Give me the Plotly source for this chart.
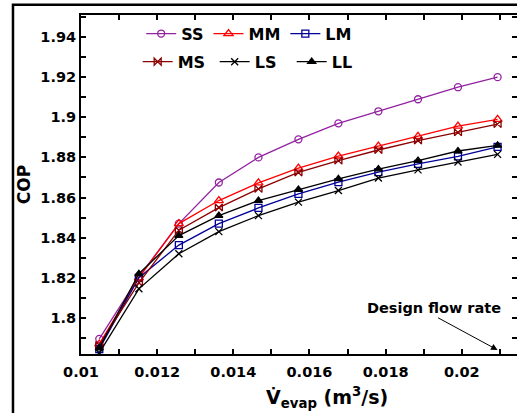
import plotly.graph_objects as go

flow = [0.01048, 0.01152, 0.01257, 0.01362, 0.01466, 0.01571, 0.01676, 0.01781, 0.01885, 0.0199, 0.02094]
SS = [1.7895, 1.8205, 1.847, 1.8675, 1.880, 1.889, 1.897, 1.903, 1.909, 1.915, 1.920]
MM = [1.787, 1.820, 1.847, 1.8585, 1.8673, 1.8747, 1.8807, 1.8856, 1.8905, 1.8956, 1.899]
LM = [1.7845, 1.8200, 1.8363, 1.847, 1.8548, 1.8618, 1.8677, 1.8727, 1.8768, 1.8805, 1.8853]
MS = [1.7865, 1.8175, 1.8437, 1.855, 1.8643, 1.8725, 1.8784, 1.8837, 1.8884, 1.8925, 1.8966]
LS = [1.7826, 1.8145, 1.832, 1.843, 1.851, 1.8577, 1.8635, 1.8697, 1.8738, 1.8777, 1.8815]
LL = [1.785, 1.822, 1.841, 1.851, 1.8585, 1.864, 1.8693, 1.8742, 1.8784, 1.8832, 1.886]

x_ticks = [0.01, 0.012, 0.014, 0.016, 0.018, 0.02]
x_labels = ["0.01", "0.012", "0.014", "0.016", "0.018", "0.02"]
y_ticks = [1.8, 1.82, 1.84, 1.86, 1.88, 1.9, 1.92, 1.94]
y_labels = ["1.8", "1.82", "1.84", "1.86", "1.88", "1.9", "1.92", "1.94"]

series = [
    ("SS", SS, "#9222a0", "circle-open", 7, "legend"),
    ("MM", MM, "#ff0000", "triangle-up-open", 8, "legend"),
    ("LM", LM, "#000099", "square-open", 7, "legend"),
    ("MS", MS, "#8b0000", "bowtie-open", 7, "legend2"),
    ("LS", LS, "#000000", "x-thin-open", 7, "legend2"),
    ("LL", LL, "#000000", "triangle-up", 7, "legend2"),
]

FAM = "DejaVu Sans, Liberation Sans, Arial, sans-serif"
font = dict(family=FAM, color="black")

fig = go.Figure()
for name, ys, col, sym, sz, lg in series:
    fig.add_trace(go.Scatter(
        x=flow, y=ys, name="<b>%s</b>" % name, mode="lines+markers", legend=lg,
        line=dict(color=col, width=1.3),
        marker=dict(symbol=sym, size=sz, color=col, line=dict(color=col, width=1.3)),
    ))
# invisible copy on the right-hand axis so its inside ticks are drawn
fig.add_trace(go.Scatter(x=flow, y=LL, yaxis="y2", mode="lines", line=dict(width=0),
                         opacity=0, showlegend=False, hoverinfo="skip"))

tick_common = dict(ticks="inside", ticklen=5, tickwidth=1.5, tickcolor="black",
                   showgrid=False, zeroline=False)
minor_common = dict(ticks="inside", ticklen=5, tickwidth=1.5, tickcolor="black")

fig.update_layout(
    xaxis=dict(range=[0.01, 0.02145], tickvals=x_ticks,
               ticktext=["<b>%s</b>" % t for t in x_labels],
               minor=dict(dtick=0.001, tick0=0.01, **minor_common),
               showline=True, linecolor="black", linewidth=2, mirror="ticks",
               tickfont=dict(size=14.5, **font), ticklabelstandoff=4,
               **tick_common),
    yaxis=dict(range=[1.782, 1.951], tickvals=y_ticks,
               ticktext=["<b>%s</b>" % t for t in y_labels],
               minor=dict(dtick=0.01, tick0=1.8, **minor_common),
               showline=True, linecolor="black", linewidth=2, mirror=False,
               tickfont=dict(size=14.5, **font),
               title=dict(text="<b>COP</b>", font=dict(size=17, **font), standoff=5),
               **tick_common),
    yaxis2=dict(range=[1.782, 1.951], overlaying="y", side="right", showticklabels=False,
                tickvals=y_ticks, minor=dict(dtick=0.01, tick0=1.8, **minor_common),
                showline=False, **tick_common),
)

leg = dict(orientation="h", bgcolor="rgba(0,0,0,0)", font=dict(size=16, **font),
           xanchor="left", yanchor="middle", itemwidth=30, tracegroupgap=0)
fig.update_layout(
    width=517, height=413,
    margin=dict(l=81, r=0, t=15, b=59),
    paper_bgcolor="white", plot_bgcolor="white",
    legend=dict(x=0.138, y=0.945, **leg),
    legend2=dict(x=0.13, y=0.862, entrywidth=32, **leg),
    shapes=[dict(type="rect", xref="paper", yref="paper", x0=-0.156, x1=1.2, y0=-0.3, y1=1.03,
                 line=dict(color="black", width=2.5), fillcolor="rgba(0,0,0,0)", layer="below")],
)
fig.add_annotation(x=0.564, y=-0.127, xref="paper", yref="paper", xanchor="center", yanchor="middle",
                   text="<b>V\u0307<sub>evap</sub> (m<sup>3</sup>/s)</b>", showarrow=False,
                   font=dict(size=19, **font))
fig.add_annotation(x=0.02094, y=1.784, xref="x", yref="y", ax=-61, ay=-33,
                   text="", showarrow=True, arrowhead=2, arrowsize=1.3, arrowwidth=1, arrowcolor="black")
fig.add_annotation(x=0.01926, y=1.805, xref="x", yref="y", text="<b>Design flow rate</b>",
                   showarrow=False, font=dict(size=14.5, **font))

fig.write_html("out.html")
